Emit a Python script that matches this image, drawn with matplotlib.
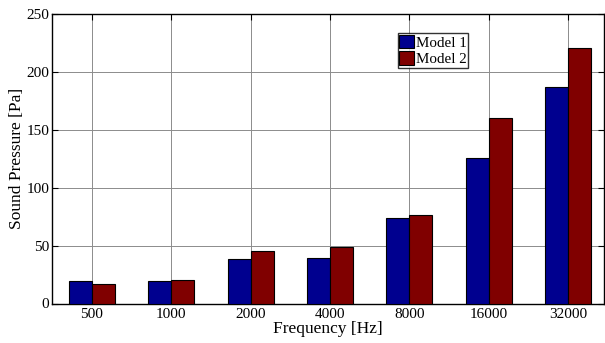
import matplotlib
matplotlib.use("Agg")
import matplotlib.pyplot as plt
import numpy as np

categories = ["500", "1000", "2000", "4000", "8000", "16000", "32000"]
model1 = [19, 19.5, 38, 39, 74, 125.5, 187]
model2 = [16.5, 20, 45, 49, 76.5, 160, 221]
yticks = [0, 50, 100, 150, 200, 250]

plt.rcParams['font.family'] = ['Liberation Serif', 'DejaVu Serif']

fig = plt.figure(figsize=(6.05, 3.43), dpi=100)
ax = fig.add_axes([52/605, (343-303.5)/343, (604-52)/605, (303.5-14)/343])

x = np.arange(1, len(categories) + 1)
w = 0.29
ax.bar(x - w/2, model1, w, color='#00008F', edgecolor='black', linewidth=0.8, label='Model 1', zorder=3)
ax.bar(x + w/2, model2, w, color='#800000', edgecolor='black', linewidth=0.8, label='Model 2', zorder=3)

ax.set_xlim(0.5, 7.45)
ax.set_ylim(0, 250)
ax.set_xticks(x)
ax.set_xticklabels(categories)
ax.set_yticks(yticks)
ax.tick_params(direction='in', top=True, right=True, labelsize=11, length=4, width=0.8, pad=2)
ax.tick_params(axis='x', pad=3.5)
ax.grid(True, color='#8c8c8c', linewidth=0.7, zorder=0)
ax.set_axisbelow(True)
for s in ax.spines.values():
    s.set_linewidth(1.0)

ax.set_xlabel('Frequency [Hz]', fontsize=12.5, labelpad=0)
ax.set_ylabel('Sound Pressure [Pa]', fontsize=12.5, labelpad=1)

leg = ax.legend(loc='upper left', bbox_to_anchor=((397.5-52)/552, (303.5-33)/289.5),
                fontsize=10.8, frameon=True, fancybox=False, edgecolor='black',
                borderpad=0.12, handlelength=1.0, handleheight=1.0, handletextpad=0.1,
                labelspacing=0.12, borderaxespad=0)
leg.get_frame().set_linewidth(1.0)
leg.set_zorder(5)

fig.savefig('out.png', dpi=100)
